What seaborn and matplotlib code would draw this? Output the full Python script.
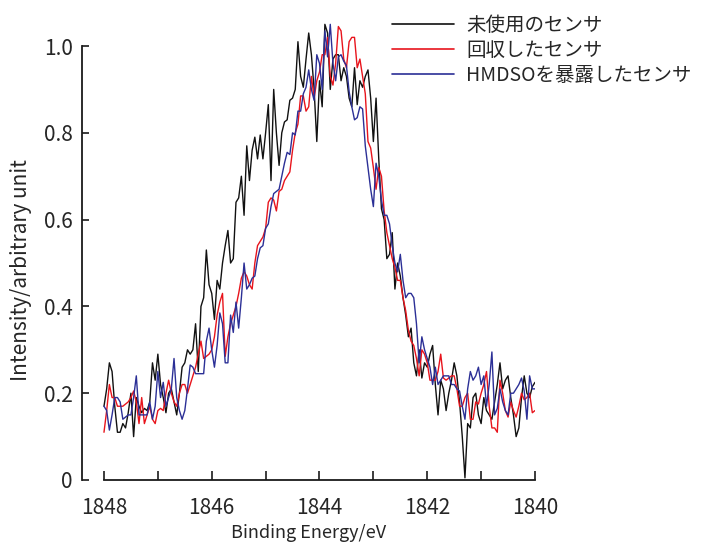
import numpy as np
import pandas as pd
import matplotlib
matplotlib.use("Agg")
import matplotlib.pyplot as plt
import seaborn as sns

# Binding energy grid (eV), 0.05 eV step from 1848 down to 1840
energy = np.linspace(1848, 1840, 161)

unused = [
    0.17, 0.21, 0.27, 0.25, 0.17, 0.11, 0.11, 0.13, 0.12, 0.155,
    0.20, 0.10, 0.19, 0.17, 0.155, 0.165, 0.16, 0.18, 0.27, 0.23,
    0.29, 0.22, 0.19, 0.155, 0.20, 0.21, 0.18, 0.15, 0.20, 0.26,
    0.27, 0.30, 0.29, 0.30, 0.36, 0.25, 0.40, 0.42, 0.53, 0.45,
    0.43, 0.37, 0.46, 0.44, 0.50, 0.54, 0.575, 0.50, 0.51, 0.64,
    0.65, 0.70, 0.61, 0.77, 0.69, 0.76, 0.79, 0.74, 0.795, 0.74,
    0.80, 0.865, 0.69, 0.90, 0.80, 0.725, 0.80, 0.825, 0.83, 0.875,
    0.88, 0.90, 1.01, 0.93, 0.905, 0.97, 1.03, 0.98, 0.90, 0.78,
    0.92, 0.86, 1.05, 1.03, 0.90, 0.97, 0.98, 0.98, 0.92, 0.95,
    0.93, 0.88, 0.86, 0.95, 0.865, 0.92, 0.905, 0.93, 0.945, 0.88,
    0.78, 0.88, 0.74, 0.625, 0.60, 0.51, 0.52, 0.57, 0.44, 0.50,
    0.47, 0.42, 0.38, 0.33, 0.35, 0.27, 0.24, 0.30, 0.235, 0.27,
    0.26, 0.29, 0.31, 0.22, 0.15, 0.23, 0.21, 0.16, 0.20, 0.23,
    0.27, 0.24, 0.18, 0.10, 0.005, 0.13, 0.12, 0.19, 0.20, 0.15,
    0.13, 0.19, 0.16, 0.15, 0.14, 0.18, 0.22, 0.27, 0.21, 0.23,
    0.24, 0.19, 0.15, 0.10, 0.12, 0.19, 0.24, 0.20, 0.19, 0.215,
    0.225,
]

recovered = [
    0.11, 0.16, 0.22, 0.19, 0.19, 0.17, 0.17, 0.17, 0.175, 0.18,
    0.19, 0.205, 0.18, 0.13, 0.19, 0.13, 0.15, 0.17, 0.14, 0.13,
    0.16, 0.165, 0.16, 0.20, 0.23, 0.20, 0.18, 0.17, 0.20, 0.22,
    0.22, 0.20, 0.22, 0.24, 0.26, 0.29, 0.32, 0.28, 0.285, 0.29,
    0.30, 0.33, 0.38, 0.41, 0.43, 0.285, 0.33, 0.36, 0.38, 0.40,
    0.43, 0.465, 0.48, 0.47, 0.45, 0.44, 0.50, 0.54, 0.55, 0.56,
    0.58, 0.64, 0.65, 0.645, 0.62, 0.665, 0.67, 0.69, 0.70, 0.71,
    0.76, 0.80, 0.82, 0.885, 0.885, 0.85, 0.86, 0.93, 0.88, 0.92,
    0.94, 0.98, 0.98, 1.02, 0.93, 0.91, 0.96, 1.045, 1.035, 0.97,
    0.95, 1.01, 1.02, 1.02, 0.95, 0.97, 0.93, 0.89, 0.78, 0.765,
    0.72, 0.67, 0.72, 0.70, 0.62, 0.57, 0.54, 0.51, 0.49, 0.46,
    0.46, 0.42, 0.39, 0.345, 0.32, 0.31, 0.28, 0.24, 0.30, 0.29,
    0.27, 0.23, 0.23, 0.23, 0.25, 0.29, 0.235, 0.23, 0.235, 0.24,
    0.24, 0.21, 0.17, 0.17, 0.19, 0.20, 0.14, 0.14, 0.18, 0.175,
    0.20, 0.22, 0.25, 0.17, 0.12, 0.12, 0.11, 0.23, 0.20, 0.16,
    0.145, 0.18, 0.16, 0.145, 0.17, 0.20, 0.185, 0.19, 0.20, 0.155,
    0.16,
]

hmdso = [
    0.17, 0.16, 0.115, 0.15, 0.19, 0.19, 0.18, 0.14, 0.145, 0.15,
    0.15, 0.19, 0.24, 0.15, 0.15, 0.15, 0.15, 0.18, 0.14, 0.17,
    0.25, 0.19, 0.225, 0.17, 0.19, 0.21, 0.28, 0.19, 0.16, 0.14,
    0.16, 0.21, 0.265, 0.26, 0.245, 0.245, 0.245, 0.245, 0.32, 0.35,
    0.30, 0.26, 0.31, 0.385, 0.36, 0.27, 0.27, 0.38, 0.34, 0.41,
    0.35, 0.42, 0.50, 0.44, 0.45, 0.465, 0.47, 0.51, 0.535, 0.54,
    0.58, 0.59, 0.63, 0.66, 0.665, 0.67, 0.70, 0.73, 0.755, 0.75,
    0.80, 0.795, 0.85, 0.85, 0.89, 0.905, 0.945, 0.90, 0.875, 0.98,
    0.96, 0.90, 1.035, 0.975, 1.05, 0.96, 0.92, 0.975, 0.98, 0.965,
    0.955, 0.895, 0.86, 0.83, 0.835, 0.86, 0.855, 0.77, 0.72, 0.67,
    0.63, 0.73, 0.70, 0.645, 0.61, 0.61, 0.59, 0.54, 0.50, 0.48,
    0.52, 0.46, 0.42, 0.43, 0.43, 0.42, 0.36, 0.27, 0.33, 0.30,
    0.28, 0.26, 0.22, 0.26, 0.22, 0.23, 0.24, 0.24, 0.24, 0.22,
    0.22, 0.21, 0.205, 0.17, 0.14, 0.21, 0.25, 0.23, 0.24, 0.26,
    0.22, 0.24, 0.17, 0.22, 0.295, 0.15, 0.165, 0.21, 0.18, 0.16,
    0.15, 0.20, 0.20, 0.21, 0.22, 0.235, 0.205, 0.14, 0.24, 0.21,
    0.21,
]

labels = ["未使用のセンサ", "回収したセンサ", "HMDSOを暴露したセンサ"]
colors = ["#111111", "#e8141c", "#2b2f96"]

df = pd.concat([
    pd.DataFrame({"energy": energy, "intensity": vals, "sample": lab})
    for vals, lab in zip([unused, recovered, hmdso], labels)
])

sns.set_style("ticks")
plt.rcParams["font.family"] = ["Noto Sans CJK JP", "DejaVu Sans"]

fig = plt.figure(figsize=(7.23, 5.44), dpi=100)
# axes left edge sits where the y spine is (a bit left of 1848)
ax = fig.add_axes([82 / 723, 64 / 544, 453 / 723, 460 / 544])

sns.lineplot(data=df, x="energy", y="intensity", hue="sample",
             hue_order=labels, palette=colors, estimator=None,
             sort=False, linewidth=1.0, ax=ax)

ax.set_xlim(1848.408, 1840)
ax.set_ylim(0, 1.06)

sns.despine(ax=ax)
ax.spines["left"].set_bounds(0, 1.0)
ax.spines["bottom"].set_bounds(1848, 1840)
for s in ["left", "bottom"]:
    ax.spines[s].set_linewidth(1.3)
    ax.spines[s].set_color("#1a1a1a")

ax.set_xticks(np.arange(1840, 1849, 1))
ax.set_xticklabels(["1840", "", "1842", "", "1844", "", "1846", "", "1848"])
ax.set_yticks([0, 0.2, 0.4, 0.6, 0.8, 1.0])
ax.set_yticklabels(["0", "0.2", "0.4", "0.6", "0.8", "1.0"])
ax.tick_params(axis="x", direction="in", length=6.5, width=1.2,
               color="#1a1a1a", labelsize=15, pad=12)
ax.tick_params(axis="y", direction="in", length=5, width=1.2,
               color="#1a1a1a", labelsize=15, pad=6.5)

ax.set_xlabel("Binding Energy/eV", fontsize=13)
ax.set_ylabel("Intensity/arbitrary unit", fontsize=15)
ax.xaxis.set_label_coords(0.5, -0.096)
ax.yaxis.set_label_coords(-0.11, 0.4565)

leg = ax.legend(loc="upper left", bbox_to_anchor=(392 / 723, 1 - 15 / 544),
                bbox_transform=fig.transFigure, frameon=False, fontsize=14,
                handlelength=3.2, handletextpad=0.6, labelspacing=0.2,
                borderpad=0, borderaxespad=0)
for line in leg.get_lines():
    line.set_linewidth(1.2)

fig.savefig("out.png", dpi=100)
